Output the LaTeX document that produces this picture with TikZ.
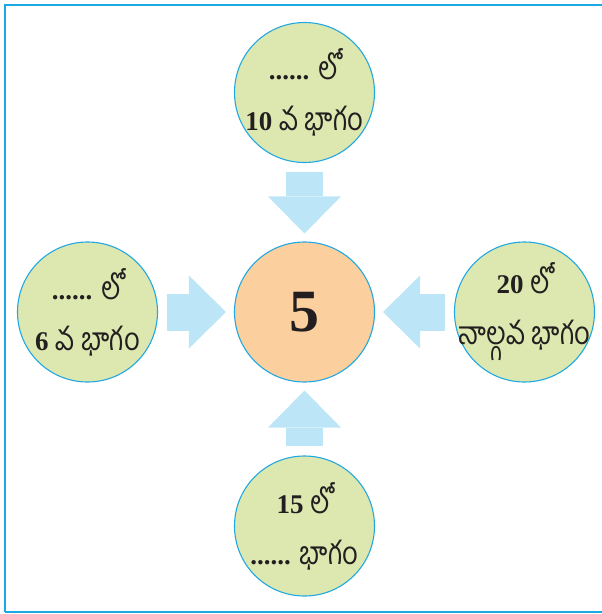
\documentclass[tikz,border=0pt]{standalone}
\usepackage{fontspec}
\setmainfont{Liberation Serif}
\newfontfamily\telfont[Script=Telugu, Scale=1.18, FakeStretch=0.86]{Hind Guntur}
\usetikzlibrary{arrows.meta}
\definecolor{framecyan}{HTML}{1BA9E4}
\definecolor{ringblue}{HTML}{22A8E0}
\definecolor{partgreen}{HTML}{DCE8B0}
\definecolor{wholeorange}{HTML}{FCD09E}
\definecolor{pointblue}{HTML}{BDE5F8}
\definecolor{inkblack}{HTML}{231F20}
\tikzset{
  part/.style={circle, draw=ringblue, line width=1.1pt, fill=partgreen, minimum size=140pt, inner sep=-14pt,
    align=center, text=inkblack, font=\fontsize{27}{51}\selectfont},
  whole/.style={part, fill=wholeorange, font=\bfseries\fontsize{60}{60}\selectfont},
  pointer/.style={draw=pointblue, line width=37pt, -{Triangle[width=73pt,length=37pt,line width=0pt]},
    shorten <=9pt, shorten >=8pt}
}
\newcommand{\tel}[1]{{\telfont #1}}
\newcommand{\bnum}[1]{{\bfseries #1}}

\begin{document}
\begin{tikzpicture}[x=1pt,y=-1pt]
\useasboundingbox (0,0) rectangle (602,614);
\draw[framecyan, line width=2.2pt] (5,612) -- (5,5) -- (602,5);
\draw[framecyan, line width=1.4pt] (5,612) -- (602,612);
\node[whole] (five) at (304.5,312) {5};
\node[part] (tenth) at (304.5,92.5) {\bnum{......} \tel{లో}\\ \bnum{10} \tel{వ భాగం}};
\node[part] (sixth) at (87.5,312) {\bnum{......} \tel{లో}\\ \bnum{6} \tel{వ భాగం}};
\node[part] (fourth) at (524.5,312) {\bnum{20} \tel{లో}\\ \tel{నాల్గవ భాగం}};
\node[part] (fifteenth) at (304.5,526) {\bnum{15} \tel{లో}\\ \bnum{......} \tel{భాగం}};
\draw[pointer] (tenth) -- (five);
\draw[pointer] (sixth) -- (five);
\draw[pointer] (fourth) -- (five);
\draw[pointer] (fifteenth) -- (five);
\end{tikzpicture}
\end{document}
